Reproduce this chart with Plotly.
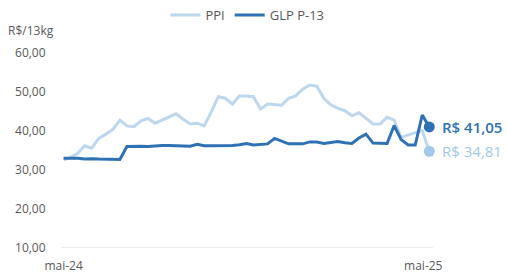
import pandas as pd
import plotly.graph_objects as go

start = pd.Timestamp("2024-05-03")
weeks = [start + pd.Timedelta(days=7 * i) for i in range(53)]

ppi = [32.6, 33.2, 34.3, 36.2, 35.6, 38.1, 39.2, 40.4, 42.8, 41.3,
       41.1, 42.6, 43.2, 42.0, 42.8, 43.5, 44.4, 43.0, 41.8, 42.0,
       41.3, 44.9, 48.8, 48.4, 46.9, 49.0, 49.0, 48.8, 45.6, 46.9,
       46.8, 46.6, 48.4, 49.0, 50.7, 51.8, 51.5, 48.4, 46.7, 45.8,
       45.2, 43.9, 44.7, 43.3, 41.8, 41.8, 43.5, 42.8, 38.3, 39.0,
       39.6, 40.1, 34.81]
glp = [33.0, 33.0, 33.0, 32.8, 32.9, 32.8, 32.8, 32.7, 32.7, 36.0,
       36.1, 36.1, 36.0, 36.2, 36.3, 36.3, 36.2, 36.2, 36.1, 36.6,
       36.2, 36.2, 36.2, 36.2, 36.3, 36.5, 36.8, 36.4, 36.5, 36.7,
       38.1, 37.5, 36.7, 36.7, 36.7, 37.2, 37.2, 36.8, 37.0, 37.3,
       37.0, 36.8, 38.2, 39.2, 36.9, 36.8, 36.8, 41.4, 37.8, 36.4,
       36.4, 44.1, 41.05]
series_names = ["PPI", "GLP P-13"]
y_ticks = [10, 20, 30, 40, 50, 60]
x_tick_text = ["mai-24", "mai-25"]
unit_label = "R$/13kg"

LIGHT = "#BDD7EE"
LIGHT_DOT = "#A3C8EA"
DARK = "#2E72B5"
GREY = "#595959"
FONT = "Open Sans"


def fmt(v):
    return f"{v:.2f}".replace(".", ",")


fig = go.Figure()
fig.add_trace(go.Scatter(x=weeks, y=ppi, mode="lines", name=series_names[0],
                         line=dict(color=LIGHT, width=3)))
fig.add_trace(go.Scatter(x=weeks, y=glp, mode="lines", name=series_names[1],
                         line=dict(color=DARK, width=3)))
# end markers
fig.add_trace(go.Scatter(x=[weeks[-1]], y=[ppi[-1]], mode="markers", showlegend=False,
                         cliponaxis=False, marker=dict(color=LIGHT_DOT, size=11)))
fig.add_trace(go.Scatter(x=[weeks[-1]], y=[glp[-1]], mode="markers", showlegend=False,
                         cliponaxis=False, marker=dict(color=DARK, size=11)))

fig.add_annotation(x=weeks[-1], y=glp[-1], xref="x", yref="y", text="R$ " + fmt(glp[-1]),
                   showarrow=False, xanchor="left", xshift=11, yshift=0,
                   font=dict(family=FONT, size=15, color=DARK, weight=600))
fig.add_annotation(x=weeks[-1], y=ppi[-1], xref="x", yref="y", text="R$ " + fmt(ppi[-1]),
                   showarrow=False, xanchor="left", xshift=11, yshift=0,
                   font=dict(family=FONT, size=15, color=LIGHT_DOT))
fig.add_annotation(x=0, y=1, xref="paper", yref="paper", text=unit_label,
                   showarrow=False, xanchor="left", yanchor="middle",
                   xshift=-55, yshift=23, font=dict(family=FONT, size=12, color=GREY))

x0 = start - pd.Timedelta(days=2.6)
x1 = weeks[-1] + pd.Timedelta(days=3.7)
tick_mai25 = start + pd.Timedelta(days=358)

fig.update_layout(
    width=507, height=274,
    margin=dict(l=61, r=74, t=53, b=26, autoexpand=False),
    paper_bgcolor="white", plot_bgcolor="white",
    font=dict(family=FONT, size=12, color=GREY),
    showlegend=True,
    legend=dict(orientation="h", x=0.488, xanchor="center", y=1.0, yanchor="top",
                xref="container", yref="container", itemwidth=30,
                font=dict(size=13, color=GREY),
                traceorder="normal", bgcolor="rgba(0,0,0,0)"),
    xaxis=dict(range=[x0, x1], showgrid=False, zeroline=False, showline=False,
               tickvals=[start, tick_mai25], ticktext=x_tick_text,
               ticks="outside", ticklen=7, tickcolor="rgba(0,0,0,0)",
               tickfont=dict(size=12, color=GREY)),
    yaxis=dict(range=[10, 60], showgrid=False, zeroline=False, showline=False,
               tickvals=y_ticks, ticktext=[fmt(v) for v in y_ticks],
               ticks="outside", ticklen=12, tickcolor="rgba(0,0,0,0)",
               tickfont=dict(size=12, color=GREY)),
)
fig.add_shape(type="line", xref="paper", yref="y", x0=0, x1=1, y0=10, y1=10,
              line=dict(color="#D9D9D9", width=1), layer="below")

fig.write_html("out.html", config={"displayModeBar": False},
               post_script="document.body.style.margin='0';")
